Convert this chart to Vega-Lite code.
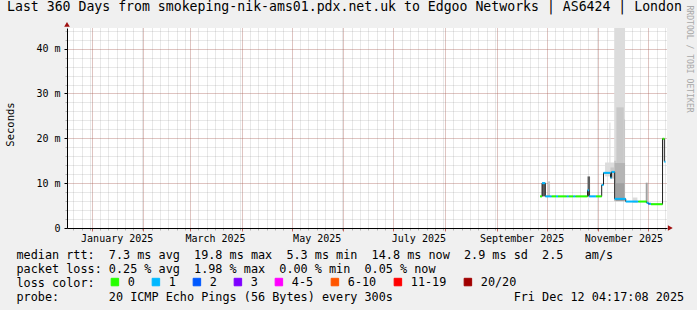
{
  "$schema": "https://vega.github.io/schema/vega-lite/v6.json",
  "width": 600,
  "height": 200,
  "autosize": {"type": "none"},
  "padding": {"left": 67, "top": 28, "right": 30, "bottom": 82},
  "background": "#f0f0f0",
  "config": {"view": {"fill": "#ffffff", "stroke": null}, "font": "DejaVu Sans Mono"},
  "title": {
    "text": "Last 360 Days from smokeping-nik-ams01.pdx.net.uk to Edgoo Networks | AS6424 | London",
    "anchor": "start", "frame": "group", "dx": -60, "offset": -19,
    "font": "DejaVu Sans Mono", "fontSize": 13.2, "fontWeight": "normal", "color": "#000000", "baseline": "alphabetic"
  },
  "datasets": {
    "segs": [
      {"start": "2025-09-27T00:00", "end": "2025-09-28T05:00", "ms": 7.05, "loss": "0"},
      {"start": "2025-09-28T05:00", "end": "2025-09-30T04:00", "ms": 10.0, "loss": "1"},
      {"start": "2025-09-30T04:00", "end": "2025-10-04T00:00", "ms": 7.05, "loss": "1"},
      {"start": "2025-10-04T00:00", "end": "2025-10-06T14:00", "ms": 7.05, "loss": "0"},
      {"start": "2025-10-06T14:00", "end": "2025-10-07T19:00", "ms": 7.05, "loss": "1"},
      {"start": "2025-10-07T19:00", "end": "2025-10-13T00:00", "ms": 7.05, "loss": "0"},
      {"start": "2025-10-13T00:00", "end": "2025-10-14T05:00", "ms": 7.05, "loss": "1"},
      {"start": "2025-10-14T05:00", "end": "2025-10-17T00:00", "ms": 7.05, "loss": "0"},
      {"start": "2025-10-17T00:00", "end": "2025-10-18T07:00", "ms": 7.05, "loss": "1"},
      {"start": "2025-10-18T07:00", "end": "2025-10-25T12:00", "ms": 7.05, "loss": "0"},
      {"start": "2025-10-25T12:00", "end": "2025-10-26T10:00", "ms": 8.4, "loss": "1"},
      {"start": "2025-10-26T10:00", "end": "2025-10-30T14:00", "ms": 7.05, "loss": "1"},
      {"start": "2025-10-30T14:00", "end": "2025-11-03T00:00", "ms": 7.05, "loss": "0"},
      {"start": "2025-11-03T00:00", "end": "2025-11-04T02:00", "ms": 9.6, "loss": "1"},
      {"start": "2025-11-04T02:00", "end": "2025-11-08T07:00", "ms": 12.3, "loss": "1"},
      {"start": "2025-11-08T07:00", "end": "2025-11-08T22:00", "ms": 11.2, "loss": "1"},
      {"start": "2025-11-08T22:00", "end": "2025-11-10T19:00", "ms": 12.5, "loss": "1"},
      {"start": "2025-11-10T19:00", "end": "2025-11-17T10:00", "ms": 6.5, "loss": "1"},
      {"start": "2025-11-17T10:00", "end": "2025-11-25T00:00", "ms": 5.9, "loss": "1"},
      {"start": "2025-11-25T00:00", "end": "2025-11-30T00:00", "ms": 5.9, "loss": "0"},
      {"start": "2025-11-30T00:00", "end": "2025-12-01T00:00", "ms": 5.6, "loss": "1"},
      {"start": "2025-12-01T00:00", "end": "2025-12-01T20:00", "ms": 5.4, "loss": "2"},
      {"start": "2025-12-01T20:00", "end": "2025-12-02T14:00", "ms": 5.4, "loss": "1"},
      {"start": "2025-12-02T14:00", "end": "2025-12-09T12:00", "ms": 5.3, "loss": "0"},
      {"start": "2025-12-09T12:00", "end": "2025-12-10T14:00", "ms": 19.9, "loss": "0"},
      {"start": "2025-12-10T14:00", "end": "2025-12-11T07:00", "ms": 14.8, "loss": "1"}
    ],
    "smoke": [
      {"start": "2025-11-05T00:00", "end": "2025-11-10T12:00", "lo": 11.5, "hi": 14.6, "band": "outer"},
      {"start": "2025-11-07T14:00", "end": "2025-11-08T06:00", "lo": 14.0, "hi": 23.5, "band": "outer"},
      {"start": "2025-11-10T12:00", "end": "2025-11-17T00:00", "lo": 6.0, "hi": 50, "band": "outer"},
      {"start": "2025-11-21T14:00", "end": "2025-11-24T10:00", "lo": 5.6, "hi": 6.8, "band": "outer"},
      {"start": "2025-10-01T20:00", "end": "2025-10-03T00:00", "lo": 7.0, "hi": 10.4, "band": "mid"},
      {"start": "2025-11-08T06:00", "end": "2025-11-10T12:00", "lo": 11.0, "hi": 13.5, "band": "mid"},
      {"start": "2025-11-10T12:00", "end": "2025-11-11T20:00", "lo": 6.0, "hi": 15.0, "band": "mid"},
      {"start": "2025-11-11T20:00", "end": "2025-11-16T05:00", "lo": 6.0, "hi": 26.9, "band": "mid"},
      {"start": "2025-11-16T05:00", "end": "2025-11-17T00:00", "lo": 6.0, "hi": 24.2, "band": "mid"},
      {"start": "2025-11-10T18:00", "end": "2025-11-17T00:00", "lo": 6.0, "hi": 14.5, "band": "inner"},
      {"start": "2025-11-29T10:00", "end": "2025-11-30T14:00", "lo": 5.6, "hi": 10.1, "band": "core"},
      {"start": "2025-11-11T12:00", "end": "2025-11-16T12:00", "lo": 6.0, "hi": 10.0, "band": "core"},
      {"start": "2025-09-28T05:00", "end": "2025-09-30T04:00", "lo": 7.05, "hi": 10.0, "band": "dark"},
      {"start": "2025-10-25T12:00", "end": "2025-10-27T00:00", "lo": 7.05, "hi": 11.5, "band": "dark"}
    ]
  },
  "layer": [
    {
      "data": {"name": "smoke"},
      "mark": {"type": "rect", "clip": true},
      "encoding": {
        "x": {
          "field": "start", "type": "temporal",
          "scale": {"domain": [{"year": 2024, "month": 12, "date": 17, "hours": 4, "minutes": 17}, {"year": 2025, "month": 12, "date": 12, "hours": 4, "minutes": 17}], "nice": false},
          "axis": {"orient": "bottom", "grid": true, "gridColor": "#8c8c8c", "gridOpacity": 0.4, "gridDash": [1, 1], "ticks": true, "tickSize": 2, "tickColor": "#8c8c8c", "tickOpacity": 0.6, "labels": false, "domain": false, "title": null, "tickCount": {"interval": "day", "step": 5}}
        },
        "x2": {"field": "end"},
        "y": {
          "field": "lo", "type": "quantitative",
          "scale": {"domain": [0, 44.6], "nice": false, "zero": false},
          "axis": {"orient": "left", "values": [0, 2, 4, 6, 8, 10, 12, 14, 16, 18, 20, 22, 24, 26, 28, 30, 32, 34, 36, 38, 40, 42, 44], "grid": true, "gridColor": "#8c8c8c", "gridOpacity": 0.4, "gridDash": [1, 1], "ticks": true, "tickSize": 2, "tickColor": "#8c8c8c", "tickOpacity": 0.6, "labels": false, "domain": false, "title": null}
        },
        "y2": {"field": "hi"},
        "fill": {"field": "band", "type": "nominal", "scale": {"domain": ["outer", "mid", "inner", "core", "dark"], "range": ["#dcdcdc", "#c8c8c8", "#b4b4b4", "#a0a0a0", "#5e5e5e"]}, "legend": null}
      }
    },
    {
      "data": {"name": "segs"},
      "mark": {"type": "line", "interpolate": "step-after", "color": "#202020", "strokeWidth": 1},
      "encoding": {
        "x": {
          "field": "start", "type": "temporal",
          "axis": {"orient": "bottom", "grid": true, "gridColor": "#c0392b", "gridOpacity": 0.4, "gridDash": [1, 1], "ticks": true, "tickSize": 3, "tickColor": "#c0392b", "tickOpacity": 0.7, "labels": false, "domain": false, "title": null, "tickCount": {"interval": "month", "step": 1}}
        },
        "y": {
          "field": "ms", "type": "quantitative",
          "axis": {"orient": "left", "values": [0, 10, 20, 30, 40], "grid": true, "gridColor": "#c0392b", "gridOpacity": 0.4, "gridDash": [1, 1], "ticks": true, "tickSize": 3, "tickColor": "#000000", "domain": true, "domainColor": "#000000", "domainWidth": 1,
            "labelExpr": "datum.value == 0 ? '0\u00a0\u00a0' : datum.value + '\u00a0m'",
            "labelFont": "DejaVu Sans Mono", "labelFontSize": 10, "labelColor": "#000000", "labelPadding": 4,
            "title": "Seconds", "titleFont": "DejaVu Sans Mono", "titleFontSize": 10.5, "titleFontWeight": "normal", "titleColor": "#000000",
            "titleX": -57, "titleY": 96, "titleAngle": 270, "titleAlign": "center", "titleBaseline": "middle"}
        }
      }
    },
    {
      "data": {"name": "segs"},
      "mark": {"type": "rule", "strokeWidth": 2, "strokeCap": "butt"},
      "encoding": {
        "x": {
          "field": "start", "type": "temporal",
          "axis": {"orient": "bottom", "grid": false, "ticks": false, "domain": true, "domainColor": "#000000", "domainWidth": 1,
            "values": [{"year": 2025, "month": 1, "date": 16}, {"year": 2025, "month": 3, "date": 16}, {"year": 2025, "month": 5, "date": 16}, {"year": 2025, "month": 7, "date": 16}, {"year": 2025, "month": 9, "date": 16}, {"year": 2025, "month": 11, "date": 16}],
            "format": "%B %Y", "formatType": "time", "labelFont": "DejaVu Sans Mono", "labelFontSize": 10, "labelColor": "#000000",
            "labelPadding": 13.6, "labelBaseline": "alphabetic", "labelAlign": "center", "labelOverlap": false, "labelFlush": false,
            "title": [
              "median rtt:\u00a0\u00a07.3 ms avg\u00a0\u00a019.8 ms max\u00a0\u00a05.3 ms min\u00a0\u00a014.8 ms now\u00a0\u00a02.9 ms sd\u00a0\u00a02.5\u00a0\u00a0\u00a0am/s",
              "packet loss: 0.25 % avg\u00a0\u00a01.98 % max\u00a0\u00a00.00 % min\u00a0\u00a00.05 % now",
              "loss color:",
              "probe:\u00a0\u00a0\u00a0\u00a0\u00a0\u00a0\u00a020 ICMP Echo Pings (56 Bytes) every 300s\u00a0\u00a0\u00a0\u00a0\u00a0\u00a0\u00a0\u00a0\u00a0\u00a0\u00a0\u00a0\u00a0\u00a0\u00a0\u00a0\u00a0Fri Dec 12 04:17:08 2025"
            ],
            "titleX": -51, "titleY": 30, "titleAlign": "left", "titleBaseline": "alphabetic", "titleAnchor": "start",
            "titleFont": "DejaVu Sans Mono", "titleFontSize": 11.8, "titleFontWeight": "normal", "titleColor": "#000000", "titleLineHeight": 14}
        },
        "x2": {"field": "end"},
        "y": {
          "field": "ms", "type": "quantitative",
          "axis": {"orient": "right", "grid": false, "ticks": false, "labels": false, "domain": false,
            "title": "RRDTOOL / TOBI OETIKER", "titleAngle": 90, "titleX": 21.5, "titleY": -23, "titleAlign": "left", "titleBaseline": "middle",
            "titleFont": "DejaVu Sans Mono", "titleFontSize": 8.1, "titleFontWeight": "normal", "titleColor": "#a8a8a8"}
        },
        "color": {
          "field": "loss", "type": "nominal",
          "scale": {"domain": ["0", "1", "2", "3", "4-5", "6-10", "11-19", "20/20"], "range": ["#26ff00", "#00b8ff", "#0059ff", "#7e00ff", "#ff00ff", "#ff5500", "#ff0000", "#a10000"]},
          "legend": {"orient": "none", "legendX": 42, "legendY": 248, "direction": "horizontal", "title": null, "padding": 0,
            "symbolType": "square", "symbolSize": 56, "labelFont": "DejaVu Sans Mono", "labelFontSize": 11.8, "labelColor": "#000000",
            "labelOffset": 7, "columnPadding": 15, "labelBaseline": "middle",
            "encode": {"symbols": {"update": {"fill": {"scale": "color", "field": "value"}, "stroke": {"value": "#000000"}, "strokeWidth": {"value": 1}, "opacity": {"value": 1}, "fillOpacity": {"value": 1}, "strokeOpacity": {"value": 1}}}}}
        }
      }
    },
    {
      "data": {"values": [{"arrow": "y"}]},
      "mark": {"type": "point", "shape": "triangle-up", "filled": true, "fill": "#a01010", "size": 32, "opacity": 1, "fillOpacity": 1, "clip": false},
      "encoding": {
        "x": {"datum": {"year": 2024, "month": 12, "date": 17, "hours": 4, "minutes": 17}, "type": "temporal", "axis": null},
        "y": {"datum": 45.4, "type": "quantitative", "axis": null}
      }
    },
    {
      "data": {"values": [{"arrow": "x"}]},
      "mark": {"type": "point", "shape": "triangle-right", "filled": true, "fill": "#a01010", "size": 32, "opacity": 1, "fillOpacity": 1, "clip": false},
      "encoding": {
        "x": {"datum": {"year": 2025, "month": 12, "date": 14, "hours": 4}, "type": "temporal", "axis": null},
        "y": {"datum": 0, "type": "quantitative", "axis": null}
      }
    }
  ],
  "resolve": {"axis": {"x": "independent", "y": "independent"}}
}
